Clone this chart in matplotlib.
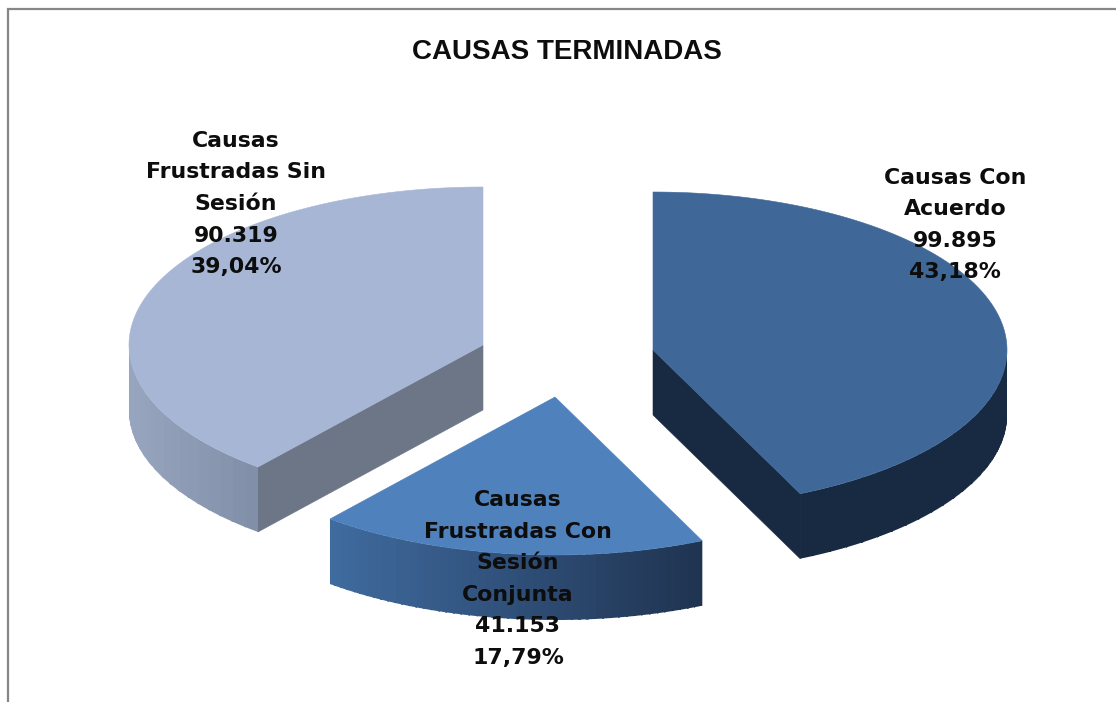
import numpy as np
import matplotlib
matplotlib.use("Agg")
import matplotlib.pyplot as plt
from matplotlib.patches import Polygon
from matplotlib.collections import PolyCollection
from matplotlib.colors import to_rgb

title = "CAUSAS TERMINADAS"
categories = ["Causas Con\nAcuerdo", "Causas\nFrustradas Con\nSesión\nConjunta", "Causas\nFrustradas Sin\nSesión"]
values = [99895, 41153, 90319]
value_labels = ["99.895", "41.153", "90.319"]
pct_labels = ["43,18%", "17,79%", "39,04%"]

top_colors = ["#3f6899", "#4f81bd", "#a8b6d6"]
side_left = ["#182a42", "#3f6b9f", "#98a5bf"]
side_right = ["#182a42", "#1f3350", "#818ea8"]
cut_colors = ["#182a42", "#1f3350", "#6d7687"]
apex = [(653, 350), (555, 397), (483, 345)]
label_pos = [(955, 225), (518, 579), (236, 204)]
RX, RY, DEPTH = 354, 158, 65

W, H = 1116, 702
fig = plt.figure(figsize=(W / 100, H / 100), dpi=100)
ax = fig.add_axes([0, 0, 1, 1])
ax.set_xlim(0, W); ax.set_ylim(H, 0); ax.axis("off")
ax.plot([8, 8, W], [H, 9, 9], color="#868686", lw=1.6, solid_joinstyle="miter")

fracs = np.array(values) / sum(values)
edges = np.concatenate([[0], np.cumsum(fracs)]) * 2 * np.pi


def rim(c, t):
    return c[0] + RX * np.sin(t), c[1] - RY * np.cos(t)


def draw_slice(i):
    c = apex[i]
    t0, t1 = edges[i], edges[i + 1]
    t = np.linspace(t0, t1, 200)
    x, y = rim(c, t)
    if i == 0:
        ex, ey = rim(c, t1)
    elif i == 2:
        ex, ey = rim(c, t0)
    if i in (0, 2):
        ax.add_patch(Polygon([c, (ex, ey), (ex, ey + DEPTH), (c[0], c[1] + DEPTH)],
                             fc=cut_colors[i], ec=cut_colors[i], lw=0.4, zorder=2 + i))
    # outer wall, front half only, shaded across x
    front = t[np.cos(t) < 0]
    xf, yf = rim(c, front)
    xmin, xmax = xf.min(), xf.max()
    cl, cr = np.array(to_rgb(side_left[i])), np.array(to_rgb(side_right[i]))
    outline = np.vstack([np.column_stack([xf, yf]), np.column_stack([xf, yf + DEPTH])[::-1]])
    # clip the shaded bands to the exact wall outline
    wall = Polygon(outline, fc="none", ec="none", zorder=2 + i)
    ax.add_patch(wall)
    quads, cols = [], []
    idx = list(range(0, len(front) - 1, 4)) + [len(front) - 1]
    for a, b in zip(idx[:-1], idx[1:]):
        quads.append([(xf[a], yf[a] - 2), (xf[b], yf[b] - 2), (xf[b], yf[b] + DEPTH + 2), (xf[a], yf[a] + DEPTH + 2)])
        k = ((xf[a] + xf[b]) / 2 - xmin) / (xmax - xmin)
        cols.append(cl + (cr - cl) * k)
    bands = PolyCollection(quads, facecolors=cols, edgecolors=cols, linewidths=0.8,
                           antialiaseds=False, zorder=2.1 + i)
    ax.add_collection(bands)
    bands.set_clip_path(wall)
    ax.add_patch(Polygon(np.vstack([c, np.column_stack([x, y])]), fc=top_colors[i],
                         ec=top_colors[i], lw=0.4, zorder=2.5 + i))


for i in range(len(values)):
    draw_slice(i)

ax.text(567, 52, title, ha="center", va="center", fontsize=20, fontweight="bold",
        family=["Liberation Sans", "DejaVu Sans"], color="#0d0d0d", zorder=10)
for i in range(len(values)):
    s = f"{categories[i]}\n{value_labels[i]}\n{pct_labels[i]}"
    ax.text(*label_pos[i], s, ha="center", va="center", fontsize=15.8, fontweight="bold",
            family="DejaVu Sans", linespacing=1.72, color="#0d0d0d", zorder=10)

fig.savefig("out.png", dpi=100)
